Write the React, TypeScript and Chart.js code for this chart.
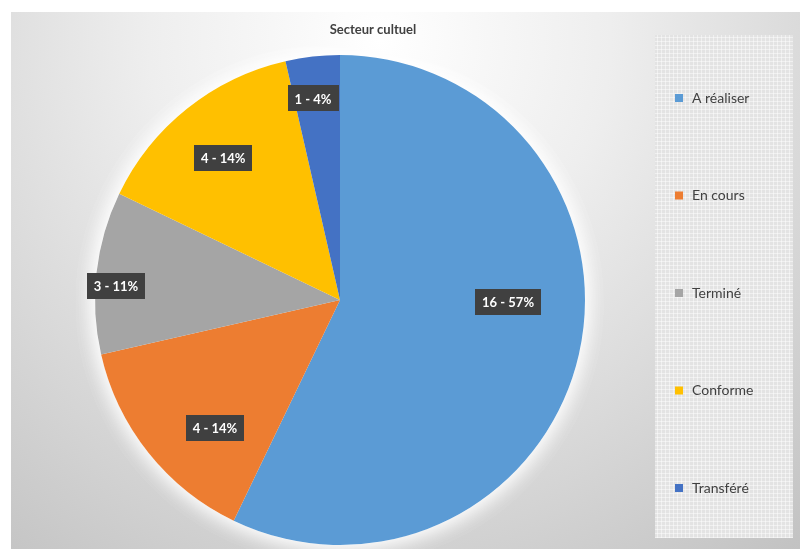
import React, { useEffect, useRef } from "react";
import { Chart, registerables } from "chart.js";

Chart.register(...registerables);

const title = "Secteur cultuel";
const categories = ["A réaliser", "En cours", "Terminé", "Conforme", "Transféré"];
const values = [16, 4, 3, 4, 1];
const colors = ["#5B9BD5", "#ED7D31", "#A5A5A5", "#FFC000", "#4472C4"];
// label placement: fraction of radius, angle offset (degrees)
const labelFrac = [0.686, 0.73, 0.916, 0.75, 0.83];
const labelOffsetDeg = [-12.2, -7.1, -2.8, -0.9, -1.2];

const FONT = "Lato, 'Open Sans', 'DejaVu Sans', sans-serif";

const decorPlugin = {
  id: "decor",
  beforeDraw(chart: any) {
    const ctx = chart.ctx;
    const W = chart.width;
    const H = chart.height;
    ctx.save();
    ctx.fillStyle = "#ffffff";
    ctx.fillRect(0, 0, W, H);
    const g = ctx.createRadialGradient(380, 40, 0, 380, 40, 660);
    g.addColorStop(0, "#ffffff");
    g.addColorStop(0.35, "#eeeeee");
    g.addColorStop(1, "#c2c2c2");
    ctx.fillStyle = g;
    ctx.fillRect(11, 12, W - 11, H - 12);

    // legend box with fine grid pattern
    const lx = 655, ly = 35, lw = 138, lh = 503;
    ctx.fillStyle = "#e3e3e3";
    ctx.fillRect(lx, ly, lw, lh);
    ctx.strokeStyle = "rgba(255,255,255,0.45)";
    ctx.lineWidth = 1;
    ctx.beginPath();
    for (let x = lx + 2; x < lx + lw; x += 4) {
      ctx.moveTo(x + 0.5, ly);
      ctx.lineTo(x + 0.5, ly + lh);
    }
    for (let y = ly + 2; y < ly + lh; y += 4) {
      ctx.moveTo(lx, y + 0.5);
      ctx.lineTo(lx + lw, y + 0.5);
    }
    ctx.stroke();

    // legend items
    const labels: string[] = chart.data.labels;
    const bg: string[] = chart.data.datasets[0].backgroundColor;
    const startY = 98;
    const step = 97.5;
    ctx.font = `14px ${FONT}`;
    ctx.textBaseline = "middle";
    ctx.textAlign = "left";
    labels.forEach((lab, i) => {
      const cy = startY + i * step;
      ctx.fillStyle = bg[i];
      ctx.fillRect(675, cy - 4, 8, 8);
      ctx.fillStyle = "#404040";
      ctx.fillText(lab, 692, cy);
    });

    // title
    ctx.font = `bold 13px ${FONT}`;
    ctx.textAlign = "center";
    ctx.fillStyle = "#404040";
    ctx.fillText(title, 373, 30);
    ctx.restore();
  },
  beforeDatasetsDraw(chart: any) {
    const meta = chart.getDatasetMeta(0);
    const arc = meta.data[0];
    if (!arc) return;
    const ctx = chart.ctx;
    ctx.save();
    ctx.shadowColor = "rgba(255,255,255,1)";
    ctx.shadowBlur = 22;
    ctx.fillStyle = "#ffffff";
    ctx.beginPath();
    ctx.arc(arc.x, arc.y, arc.outerRadius, 0, Math.PI * 2);
    ctx.fill();
    ctx.fill();
    ctx.restore();
  },
  afterDatasetsDraw(chart: any) {
    const meta = chart.getDatasetMeta(0);
    const data: number[] = chart.data.datasets[0].data;
    const total = data.reduce((a, b) => a + b, 0);
    const ctx = chart.ctx;
    ctx.save();
    ctx.font = `bold 13px ${FONT}`;
    ctx.textBaseline = "middle";
    ctx.textAlign = "center";
    meta.data.forEach((arc: any, i: number) => {
      const mid = (arc.startAngle + arc.endAngle) / 2 + (labelOffsetDeg[i] * Math.PI) / 180;
      const r = arc.outerRadius * labelFrac[i];
      const x = arc.x + Math.cos(mid) * r;
      const y = arc.y + Math.sin(mid) * r;
      const text = `${data[i]} - ${Math.round((data[i] / total) * 100)}%`;
      const w = ctx.measureText(text).width + 14;
      const h = 26;
      ctx.fillStyle = "#404040";
      ctx.fillRect(Math.round(x - w / 2), Math.round(y - h / 2), Math.round(w), h);
      ctx.fillStyle = "#ffffff";
      ctx.fillText(text, x, y + 1);
    });
    ctx.restore();
  },
};

export default function App() {
  const ref = useRef<HTMLCanvasElement | null>(null);
  useEffect(() => {
    if (!ref.current) return;
    const chart = new Chart(ref.current, {
      type: "pie",
      data: {
        labels: categories,
        datasets: [
          {
            data: values,
            backgroundColor: colors,
            borderWidth: 0,
          },
        ],
      },
      options: {
        animation: false,
        responsive: true,
        maintainAspectRatio: false,
        layout: { padding: { left: 95, right: 215, top: 55, bottom: 4 } },
        plugins: {
          legend: { display: false },
          tooltip: { enabled: false },
          title: { display: false },
        },
      },
      plugins: [decorPlugin],
    });
    return () => chart.destroy();
  }, []);
  return (
    <div style={{ position: "fixed", left: 0, top: 0, width: 800, height: 549 }}>
      <canvas ref={ref} />
    </div>
  );
}
